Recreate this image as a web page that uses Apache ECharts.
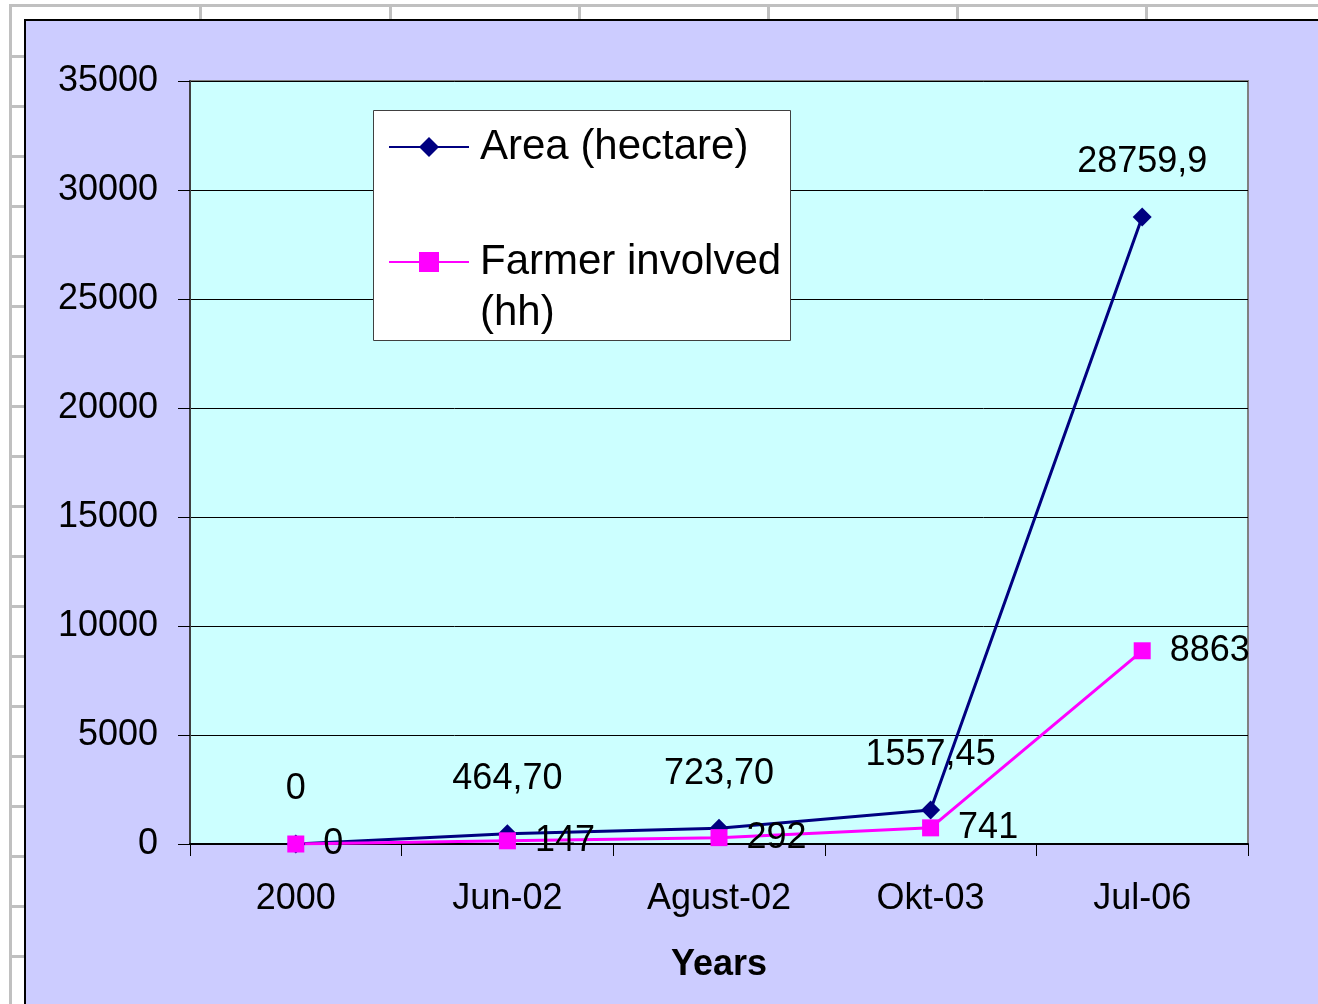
<!DOCTYPE html>
<html>
<head>
<meta charset="utf-8">
<script src="https://cdn.jsdelivr.net/npm/echarts@6/dist/echarts.min.js"></script>
<style>
  html, body { margin: 0; padding: 0; background: #ffffff; overflow: hidden; }
  #sheet { position: absolute; left: 0; top: 0; width: 1318px; height: 1004px; }
  .g { position: absolute; background: #c0c0c0; }
  #panel { position: absolute; left: 24px; top: 19px; right: 0; bottom: 0;
           background: #ccccff; border-left: 2px solid #000; border-top: 2px solid #000; box-sizing: border-box; }
  #chart { position: absolute; left: 0; top: 0; width: 1318px; height: 1004px; }
</style>
</head>
<body>
<div id="sheet"></div>
<div id="panel"></div>
<div id="chart"></div>
<script>
// ---- data ----
var categories = ['2000', 'Jun-02', 'Agust-02', 'Okt-03', 'Jul-06'];
var areaValues = [0, 464.70, 723.70, 1557.45, 28759.9];
var areaLabels = ['0', '464,70', '723,70', '1557,45', '28759,9'];
var farmerValues = [0, 147, 292, 741, 8863];
var farmerLabels = ['0', '147', '292', '741', '8863'];
var areaName = 'Area (hectare)';
var farmerName = 'Farmer involved (hh)';
var xAxisTitle = 'Years';

// ---- spreadsheet grid behind the chart ----
(function () {
  var sheet = document.getElementById('sheet');
  function add(l, t, w, h) {
    var d = document.createElement('div');
    d.className = 'g';
    d.style.left = l + 'px'; d.style.top = t + 'px';
    d.style.width = w + 'px'; d.style.height = h + 'px';
    sheet.appendChild(d);
  }
  add(10, 4, 1308, 3);      // top horizontal
  add(9, 4, 3, 1000);       // left vertical
  var cols = [200, 390, 579, 768, 957, 1146];
  cols.forEach(function (x) { add(x - 1, 4, 3, 16); });
  for (var k = 0; k < 19; k++) { add(11, 55 + 50 * k, 14, 3); }
})();

var FONT = "'Liberation Sans', Arial, sans-serif";
var chart = echarts.init(document.getElementById('chart'), null, { renderer: 'canvas' });

chart.setOption({
  backgroundColor: 'transparent',
  animation: false,
  textStyle: { fontFamily: FONT },
  grid: {
    left: 190, right: 70, top: 81, bottom: 160,
    show: true, backgroundColor: '#ccffff', borderColor: '#808080', borderWidth: 2
  },
  graphic: [{
    type: 'rect', z: 3,
    shape: { x: 373.5, y: 110.5, width: 417, height: 230 },
    style: { fill: '#ffffff', stroke: '#404040', lineWidth: 1 }
  }],
  legend: {
    z: 6,
    orient: 'vertical', left: 388, top: 121.5, padding: 0,
    itemWidth: 80, itemHeight: 25, itemGap: 13,
    selectedMode: false,
    lineStyle: { width: 2 },
    data: [areaName, farmerName],
    formatter: function (name) {
      return name === farmerName ? '\nFarmer involved\n(hh)' : name;
    },
    textStyle: { fontFamily: FONT, fontSize: 42, lineHeight: 51, color: '#000', padding: [0, 0, 0, 6] }
  },
  xAxis: {
    type: 'category',
    data: categories,
    boundaryGap: true,
    name: xAxisTitle,
    nameLocation: 'middle',
    nameGap: 103,
    nameTextStyle: { fontFamily: FONT, fontSize: 36, fontWeight: 'bold', color: '#000' },
    axisLine: { show: true, lineStyle: { color: '#000', width: 2 } },
    axisTick: { show: true, length: 12, alignWithLabel: false, lineStyle: { color: '#000', width: 1 } },
    axisLabel: { fontFamily: FONT, fontSize: 36, color: '#000', margin: 37 },
    splitLine: { show: false }
  },
  yAxis: {
    type: 'value',
    min: 0, max: 35000, interval: 5000,
    axisLine: { show: true, lineStyle: { color: '#404040', width: 2 } },
    axisTick: { show: true, length: 12, lineStyle: { color: '#000', width: 1 } },
    axisLabel: { fontFamily: FONT, fontSize: 36, color: '#000', margin: 32,
                 formatter: function (v) { return String(v); } },
    splitLine: { show: true, lineStyle: { color: '#000', width: 1 } }
  },
  series: [
    {
      name: areaName,
      type: 'line',
      data: areaValues,
      symbol: 'diamond',
      symbolSize: 19,
      showAllSymbol: true,
      lineStyle: { color: '#000080', width: 3 },
      itemStyle: { color: '#000080' },
      label: {
        show: true, position: 'top', distance: 25,
        fontFamily: FONT, fontSize: 36, lineHeight: 40, color: '#000',
        formatter: function (p) { return areaLabels[p.dataIndex]; }
      }
    },
    {
      name: farmerName,
      type: 'line',
      data: farmerValues,
      symbol: 'rect',
      symbolSize: 17,
      showAllSymbol: true,
      lineStyle: { color: '#ff00ff', width: 3 },
      itemStyle: { color: '#ff00ff' },
      label: {
        show: true, position: 'right', distance: 19,
        fontFamily: FONT, fontSize: 36, lineHeight: 40, color: '#000',
        formatter: function (p) { return farmerLabels[p.dataIndex]; }
      }
    }
  ]
});
</script>
</body>
</html>
